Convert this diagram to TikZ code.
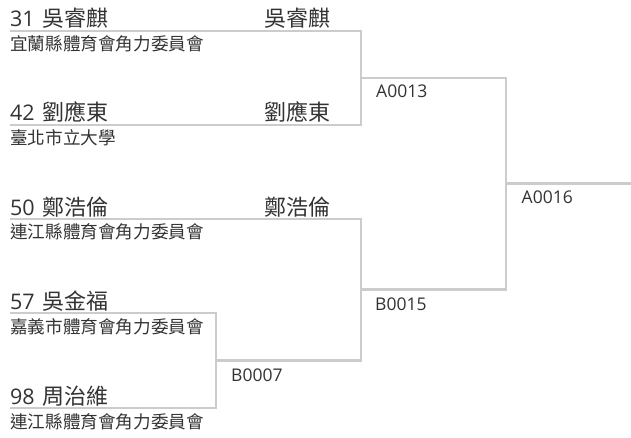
\documentclass[tikz,border=0pt]{standalone}
\usepackage{fontspec}
\setmainfont{Open Sans}
\newfontfamily\cjk{Noto Sans CJK TC}
\definecolor{linegray}{HTML}{CCCCCC}
\definecolor{txt}{HTML}{333333}
\newcommand\playername[2]{{\fontsize{21.5}{24}\selectfont #1}\hspace{7.7pt}{\cjk\fontsize{22}{24}\selectfont #2}}
\tikzset{
  ln/.style={draw=linegray, line width=2.2pt},
  ptitle/.style={anchor=base west, inner sep=0pt, text=txt},
  psub/.style={anchor=base west, inner sep=0pt, text=txt, font=\cjk\fontsize{17.6}{20}\selectfont},
  pwin/.style={anchor=base east, inner sep=0pt, text=txt, font=\cjk\fontsize{22}{24}\selectfont},
  mlab/.style={anchor=base west, inner sep=0pt, text=txt, font=\fontsize{17.5}{20}\selectfont},
}
\begin{document}
\begin{tikzpicture}[x=1pt,y=-1pt]
\useasboundingbox (0,0) rectangle (631,438);
% line start points
\coordinate (p1) at (10,31);
\coordinate (p2) at (10,125);
\coordinate (p3) at (10,219);
\coordinate (p4) at (10,313);
\coordinate (p5) at (10,408);
\coordinate (m1) at (361,78);
\coordinate (m2) at (216,360.5);
\coordinate (m3) at (361,289.5);
\coordinate (m4) at (506,183.5);
\coordinate (fin) at (631,183.5);
% bracket lines
\draw[ln] (p1) -| (m1);
\draw[ln] (p2) -| (m1);
\draw[ln] (p3) -| (m3);
\draw[ln] (p4) -| (m2);
\draw[ln] (p5) -| (m2);
\draw[ln] (m2) -| (m3);
\draw[ln] (m1) -| (m4);
\draw[ln] (m3) -| (m4);
\draw[ln] (m4) -- (fin);
% player titles
\node[ptitle] (t1) at (10,27) {\playername{31}{吳睿麒}};
\node[ptitle] (t2) at (10,121) {\playername{42}{劉應東}};
\node[ptitle] (t3) at (10,215) {\playername{50}{鄭浩倫}};
\node[ptitle] (t4) at (10,309) {\playername{57}{吳金福}};
\node[ptitle] (t5) at (10,404) {\playername{98}{周治維}};
% affiliations
\node[psub] (s1) at (10,51) {宜蘭縣體育會角力委員會};
\node[psub] (s2) at (10,145) {臺北市立大學};
\node[psub] (s3) at (10,239) {連江縣體育會角力委員會};
\node[psub] (s4) at (10,333) {嘉義市體育會角力委員會};
\node[psub] (s5) at (10,428) {連江縣體育會角力委員會};
% winners
\node[pwin] (w1) at (331,27) {吳睿麒};
\node[pwin] (w2) at (331,121) {劉應東};
\node[pwin] (w3) at (331,215) {鄭浩倫};
% match labels
\node[mlab] (l1) at (376,97.7) {A0013};
\node[mlab] (l2) at (521.5,203.3) {A0016};
\node[mlab] (l3) at (375,310) {B0015};
\node[mlab] (l4) at (231,381) {B0007};
\end{tikzpicture}
\end{document}
